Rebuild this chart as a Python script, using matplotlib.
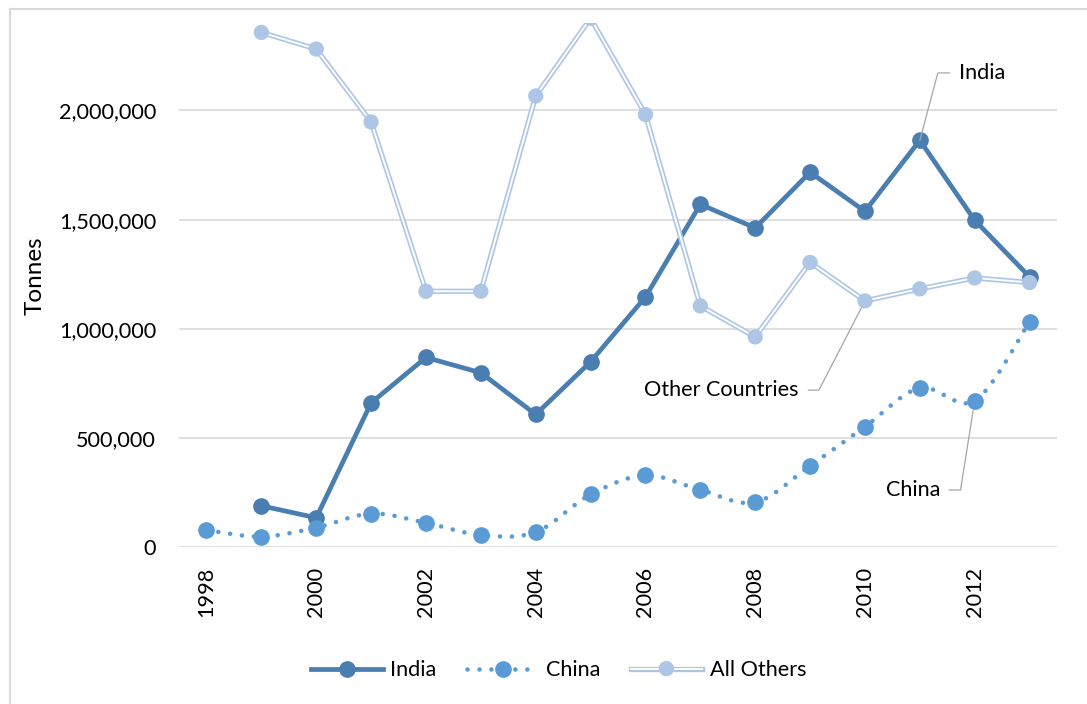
import matplotlib
matplotlib.use("Agg")
import matplotlib.pyplot as plt
import matplotlib.patheffects as pe
from matplotlib.lines import Line2D
from matplotlib.path import Path
from matplotlib.patches import PathPatch
from matplotlib.ticker import FuncFormatter

plt.rcParams['font.family'] = ['Lato', 'DejaVu Sans']

# tonnes per year
india_years = list(range(1999, 2014))
india = [190000, 135000, 661000, 869000, 799000, 608000, 849000, 1146000,
         1570000, 1462000, 1717000, 1538000, 1863000, 1497000, 1238000]

china_years = list(range(1998, 2014))
china = [79000, 48500, 90000, 154000, 112000, 56000, 70000, 242000,
         329000, 263000, 206000, 373000, 552000, 729000, 671000, 1032000]

others_years = list(range(1999, 2014))
others = [2357000, 2281000, 1947000, 1172000, 1172000, 2066000, 2422000, 1981000,
          1105000, 963000, 1304000, 1128000, 1183000, 1233000, 1212000]

year_ticks = list(range(1998, 2013, 2))
y_ticks = [0, 500000, 1000000, 1500000, 2000000]

c_india = '#4a7eb0'
c_china = '#5b9bd5'
c_others = '#adc6e6'
c_grid = '#d9d9d9'
fs = 15.6


def smooth_path(xs, ys):
    # cubic bezier through every point, control points from the neighbours
    pts = list(zip(xs, ys))
    n = len(pts)
    verts = [pts[0]]
    codes = [Path.MOVETO]
    for i in range(n - 1):
        p0 = pts[max(i - 1, 0)]
        p1 = pts[i]
        p2 = pts[i + 1]
        p3 = pts[min(i + 2, n - 1)]
        c1 = (p1[0] + (p2[0] - p0[0]) / 6, p1[1] + (p2[1] - p0[1]) / 6)
        c2 = (p2[0] - (p3[0] - p1[0]) / 6, p2[1] - (p3[1] - p1[1]) / 6)
        verts += [c1, c2, p2]
        codes += [Path.CURVE4] * 3
    return Path(verts, codes)


fig = plt.figure(figsize=(10.87, 7.04), dpi=100)
ax = fig.add_axes([0.1647, 0.2226, 0.8077, 0.7447])

# outer chart frame (only top and left edges fall inside the image)
fig.add_artist(Line2D([10 / 1087, 10 / 1087], [0, 1 - 9 / 704], color=c_grid, lw=1.5,
                      transform=fig.transFigure))
fig.add_artist(Line2D([10 / 1087, 1], [1 - 9 / 704, 1 - 9 / 704], color=c_grid, lw=1.5,
                      transform=fig.transFigure))

ax.plot(india_years, india, color=c_india, lw=3.4, marker='o', ms=11,
        solid_joinstyle='round', label='India', zorder=3)

dots = (0, (0.01, 2.6))
ax.add_patch(PathPatch(smooth_path(china_years, china), fill=False, edgecolor=c_china,
                       lw=3.3, linestyle=dots, capstyle='round', zorder=4))
ax.plot(china_years, china, ls='none', color=c_china, marker='o', ms=11, zorder=4)

double = [pe.Stroke(linewidth=3.8, foreground=c_others), pe.Normal()]
ax.plot(others_years, others, color='white', lw=1.4, marker='o', ms=7.2,
        markerfacecolor=c_others, markeredgecolor=c_others,
        path_effects=double, label='All Others', zorder=5)

ax.set_xlim(1997.5, 2013.5)
ax.set_ylim(0, 2400000)
ax.set_xticks(year_ticks)
ax.set_xticklabels([str(y) for y in year_ticks], rotation=90, fontsize=fs)
ax.set_yticks(y_ticks)
ax.yaxis.set_major_formatter(FuncFormatter(lambda v, p: f'{v:,.0f}'))
ax.tick_params(axis='y', length=0, pad=16.5, labelsize=fs)
ax.tick_params(axis='x', length=0, pad=14)
ax.grid(axis='y', color=c_grid, lw=1.2)
ax.set_axisbelow(True)
for s in ['top', 'right', 'left', 'bottom']:
    ax.spines[s].set_visible(False)

ax.set_ylabel('Tonnes', fontsize=17.5)
ax.yaxis.set_label_coords(-0.152, 0.519)

lead = dict(arrowstyle='-', color='#a6a6a6', lw=0.9, shrinkB=0)
i = india_years.index(2011)
ax.annotate('India', xy=(2011, india[i]), xytext=(27.9, 48.5), textcoords='offset points',
            ha='left', va='center', fontsize=fs,
            arrowprops=dict(lead, relpos=(0, 0.5), shrinkA=4.5,
                            connectionstyle='angle,angleA=0,angleB=75,rad=0'))
i = others_years.index(2010)
ax.annotate('Other Countries', xy=(2010, others[i]), xytext=(-47.9, -64.3),
            textcoords='offset points', ha='right', va='center', fontsize=fs,
            arrowprops=dict(lead, relpos=(1, 0.5), shrinkA=5,
                            connectionstyle='angle,angleA=0,angleB=62.7,rad=0'))
i = china_years.index(2012)
ax.annotate('China', xy=(2012, china[i]), xytext=(-24.5, -64.3),
            textcoords='offset points', ha='right', va='center', fontsize=fs,
            arrowprops=dict(lead, relpos=(1, 0.5), shrinkA=4,
                            connectionstyle='angle,angleA=0,angleB=81,rad=0'))

handles = [
    Line2D([], [], color=c_india, lw=3.4, marker='o', ms=11),
    Line2D([], [], color=c_china, lw=3.3, ls=dots, dash_capstyle='round', marker='o', ms=11),
    Line2D([], [], color='white', lw=1.4, marker='o', ms=7.2, markerfacecolor=c_others,
           markeredgecolor=c_others, path_effects=double),
]
fig.legend(handles, ['India', 'China', 'All Others'], loc='center',
           bbox_to_anchor=(0.514, 0.048), ncol=3, frameon=False, fontsize=fs,
           handlelength=3.3, handletextpad=0.35, columnspacing=1.4)

fig.savefig('out.png', dpi=100)
